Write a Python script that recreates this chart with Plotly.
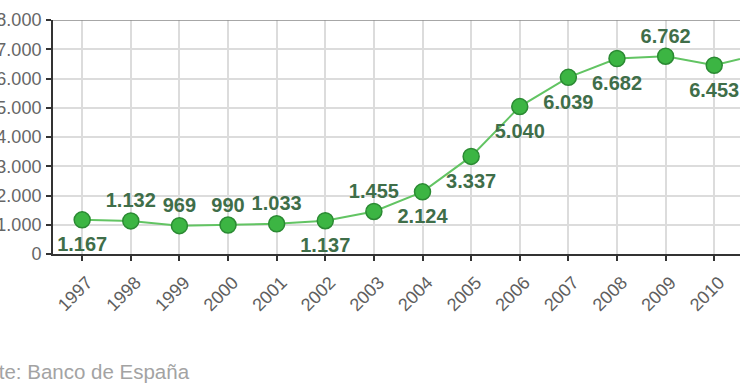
import plotly.graph_objects as go

years = [1997, 1998, 1999, 2000, 2001, 2002, 2003, 2004, 2005, 2006, 2007, 2008, 2009, 2010, 2011]
values = [1167, 1132, 969, 990, 1033, 1137, 1455, 2124, 3337, 5040, 6039, 6682, 6762, 6453, 6856]
label_above = [False, True, True, True, True, False, True, False, False, False, False, False, True, False, True]
source_text = "Fuente: Banco de España"

labels = [f"{v:,}".replace(",", ".") for v in values]
label_font = dict(family="Liberation Sans, Arial, sans-serif", size=20, color="#3f6e49", weight="bold")

fig = go.Figure()
fig.add_trace(go.Scatter(
    x=years, y=values, mode="lines+markers",
    line=dict(color="#62c463", width=2),
    marker=dict(size=16, color="#3cb543", line=dict(color="#2b8a33", width=1.5)),
    cliponaxis=False, showlegend=False, hoverinfo="skip",
))
for above, msize in ((True, 12), (False, 25)):
    xs = [x for x, a in zip(years, label_above) if a == above]
    ys = [v for v, a in zip(values, label_above) if a == above]
    ts = [t for t, a in zip(labels, label_above) if a == above]
    fig.add_trace(go.Scatter(
        x=xs, y=ys, mode="markers+text", text=ts,
        textposition="top center" if above else "bottom center",
        textfont=label_font,
        marker=dict(size=msize, color="rgba(0,0,0,0)"),
        cliponaxis=False, showlegend=False, hoverinfo="skip",
    ))

fig.add_shape(type="line", xref="paper", yref="y", x0=0, x1=1, y0=8000, y1=8000,
              line=dict(color="#8a8a8a", width=1.5))

fig.add_annotation(text=source_text, xref="paper", yref="paper", x=-0.1498, y=-0.504,
                   xanchor="left", yanchor="middle", showarrow=False,
                   font=dict(family="Liberation Sans, Arial, sans-serif", size=20.5, color="#a3a3a3"))

fig.update_layout(
    width=740, height=389,
    margin=dict(l=53, r=0, t=20, b=135),
    paper_bgcolor="white", plot_bgcolor="white",
    separators=",.",
    font=dict(family="Liberation Sans, Arial, sans-serif"),
)
fig.update_xaxes(
    range=[1996.40, 2010.53], tickmode="array", tickvals=years[:-1],
    ticktext=[str(y) for y in years[:-1]], tickangle=-45,
    ticklabelshift=5, ticklabelstandoff=4,
    showgrid=True, gridcolor="#dcdcdc", gridwidth=1.5,
    showline=True, linecolor="#333333", linewidth=2,
    ticks="outside", ticklen=5, tickwidth=2, tickcolor="#333333",
    tickfont=dict(size=18, color="#5e5e5e"), automargin=False, zeroline=False,
)
fig.update_yaxes(
    range=[0, 8000], dtick=1000, tickformat=",d",
    ticklabelstandoff=1,
    showgrid=True, gridcolor="#dcdcdc", gridwidth=1.5,
    showline=True, linecolor="#333333", linewidth=2,
    ticks="outside", ticklen=5, tickwidth=2, tickcolor="#333333",
    tickfont=dict(size=18, color="#666666"), automargin=False, zeroline=False,
)

fig.write_html("out.html", config={"displayModeBar": False},
               post_script="document.body.style.margin='0';")
